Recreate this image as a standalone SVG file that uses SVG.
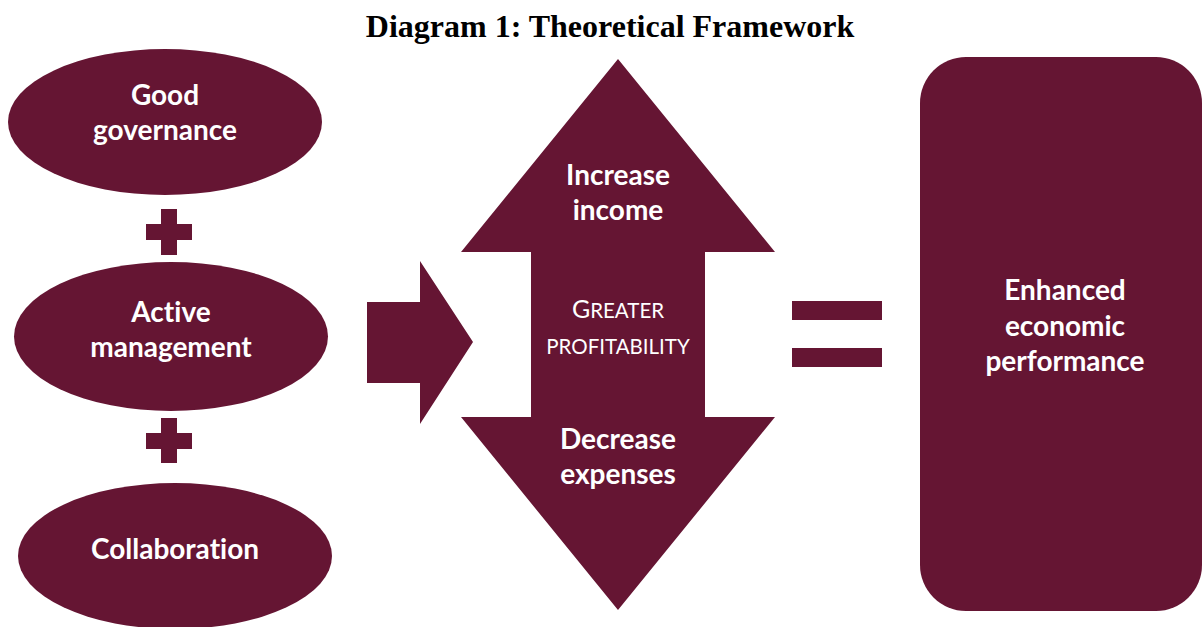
<svg xmlns="http://www.w3.org/2000/svg" width="1204" height="627" viewBox="0 0 1204 627">
<style>
.shape{fill:#651533}
.lbl{font-family:Lato,"Open Sans","Liberation Sans",sans-serif;font-weight:bold;font-size:28px;fill:#ffffff;text-anchor:middle;font-variant-ligatures:none}
.sc{font-family:Lato,"Open Sans","Liberation Sans",sans-serif;font-weight:normal;fill:#ffffff;text-anchor:middle;font-variant-ligatures:none}
.title{font-family:"Liberation Serif","Times New Roman",serif;font-weight:bold;font-size:32px;fill:#000000;text-anchor:middle}
</style>
<rect width="1204" height="627" fill="#ffffff"/>
<text class="title" x="610" y="37">Diagram 1: Theoretical Framework</text>

<g id="good-governance">
<ellipse class="shape" cx="165" cy="122" rx="157" ry="73"/>
<text class="lbl" x="165" y="105">Good</text>
<text class="lbl" x="165" y="140">governance</text>
</g>

<g id="plus-1"><path class="shape" d="M161 209h16v15h15v16h-15v15h-16v-15h-15v-16h15z"/></g>

<g id="active-management">
<ellipse class="shape" cx="171" cy="336.5" rx="157" ry="74.5"/>
<text class="lbl" x="171" y="322">Active</text>
<text class="lbl" x="171" y="357">management</text>
</g>

<g id="plus-2"><path class="shape" d="M161 418h16v15h15v16h-15v14h-16v-14h-15v-16h15z"/></g>

<g id="collaboration">
<ellipse class="shape" cx="175" cy="556" rx="157" ry="73"/>
<text class="lbl" x="175" y="559">Collaboration</text>
</g>

<g id="connectors">
<path id="right-arrow" class="shape" d="M367 302H420V261L473 342L420 424V383H367Z"/>
<g id="equals">
<rect class="shape" x="792" y="301" width="90" height="19"/>
<rect class="shape" x="792" y="348" width="90" height="19"/>
</g>
</g>

<g id="profitability">
<path class="shape" d="M618 59L775 252H705V417H775L618 610L461 417H531V252H461Z"/>
<text class="lbl" x="618" y="185">Increase</text>
<text class="lbl" x="618" y="220">income</text>
<text class="sc" x="618" y="318"><tspan font-size="25">G</tspan><tspan font-size="20.5">REATER</tspan></text>
<text class="sc" x="618" y="354" font-size="20.5">PROFITABILITY</text>
<text class="lbl" x="618" y="449">Decrease</text>
<text class="lbl" x="618" y="484">expenses</text>
</g>

<g id="enhanced-performance">
<rect class="shape" x="920" y="57" width="282" height="554" rx="46" ry="46"/>
<text class="lbl" x="1065" y="300">Enhanced</text>
<text class="lbl" x="1065" y="336">economic</text>
<text class="lbl" x="1065" y="371">performance</text>
</g>
</svg>
